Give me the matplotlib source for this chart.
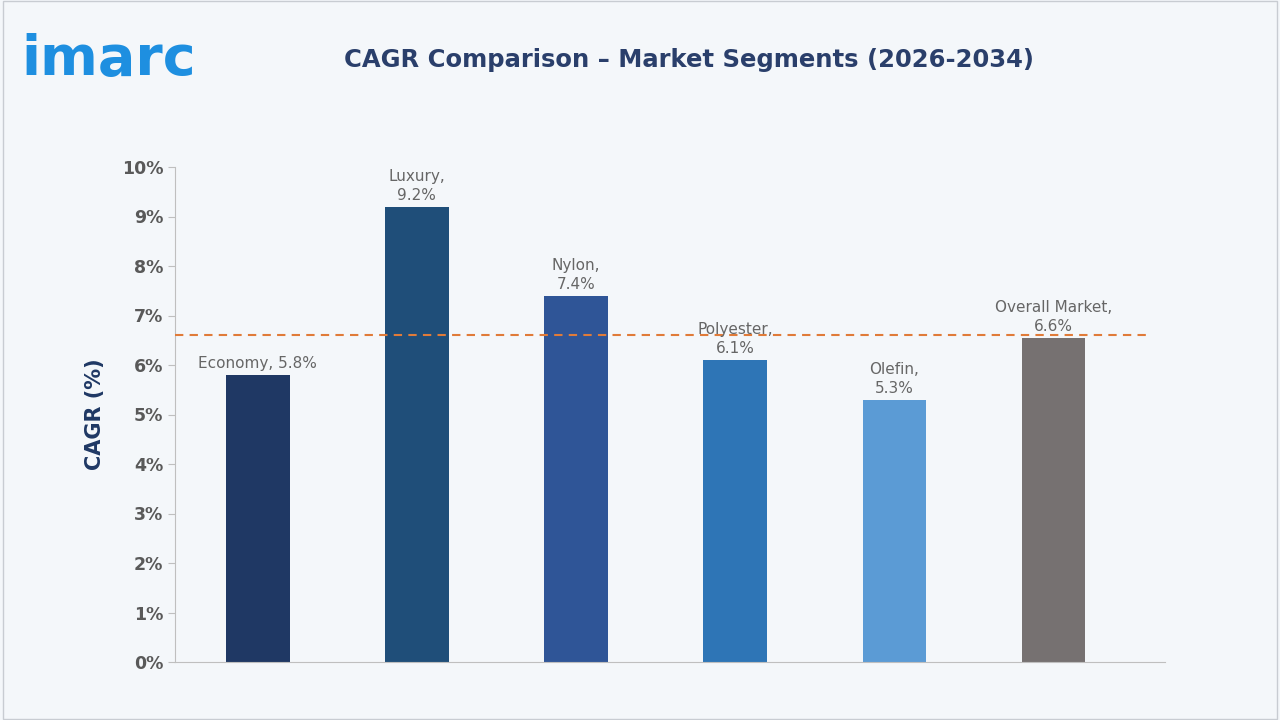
import matplotlib
matplotlib.use("Agg")
import matplotlib.pyplot as plt

categories = ["Economy", "Luxury", "Nylon", "Polyester", "Olefin", "Overall Market"]
values = [5.8, 9.2, 7.4, 6.1, 5.3, 6.55]
labels = ["Economy, 5.8%", "Luxury,\n9.2%", "Nylon,\n7.4%", "Polyester,\n6.1%", "Olefin,\n5.3%", "Overall Market,\n6.6%"]
colors = ["#1f3864", "#1f4e79", "#2f5597", "#2e75b6", "#5b9bd5", "#767171"]
avg = 6.6

fig = plt.figure(figsize=(12.8, 7.2), dpi=100)
fig.patch.set_facecolor("#f4f7fa")
fig.add_artist(plt.Rectangle((0.002, 0.002), 0.996, 0.996, transform=fig.transFigure,
                             fill=False, edgecolor="#c8ccd2", lw=1))
ax = fig.add_axes([175/1280, 1-662/720, 990/1280, 495/720])
ax.set_facecolor("#f4f7fa")
x = list(range(len(categories)))
ax.bar(x, values, width=0.4, color=colors, zorder=2)
ax.axhline(avg, color="#e07b39", ls=(0, (4, 3)), lw=1.5, xmax=0.985, zorder=3)
for i, (v, l) in enumerate(zip(values, labels)):
    ax.text(i, v + 0.08, l, ha="center", va="bottom", fontsize=11, color="#666666",
            linespacing=1.3, zorder=4)
ax.set_xlim(-0.52, 5.70)
ax.set_ylim(0, 10)
ax.set_yticks(range(0, 11))
ax.set_yticklabels([f"{i}%" for i in range(11)], fontsize=12.5, color="#595959", fontweight="bold")
ax.set_xticks([])
for s in ["top", "right"]:
    ax.spines[s].set_visible(False)
ax.spines["left"].set_color("#bfbfbf")
ax.spines["bottom"].set_color("#bfbfbf")
ax.tick_params(axis="y", colors="#bfbfbf", labelcolor="#595959", length=5)
ax.set_ylabel("CAGR (%)", fontsize=15, fontweight="bold", color="#1f3864", labelpad=12)
fig.text(0.538, 0.917, "CAGR Comparison – Market Segments (2026-2034)", ha="center", va="center",
         fontsize=17.5, fontweight="bold", color="#2a3f6b")
fig.text(0.017, 0.917, "imarc", ha="left", va="center", fontsize=40, fontweight="bold",
         color="#1e8fe0")
fig.savefig("out.png", dpi=100, facecolor=fig.get_facecolor())
